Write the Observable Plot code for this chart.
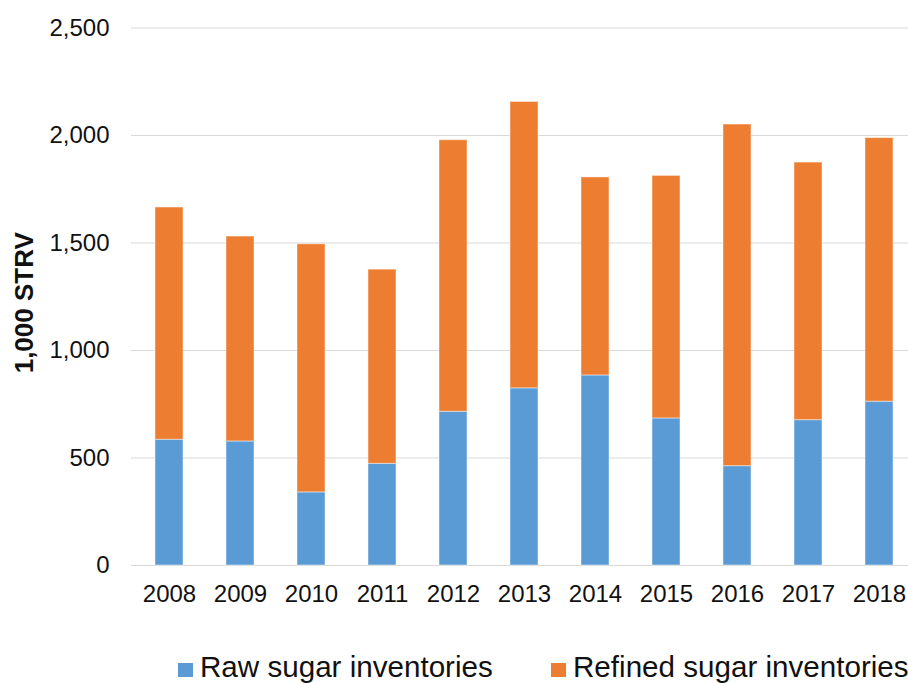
<!DOCTYPE html>
<html>
<head>
<meta charset="utf-8">
<script src="https://cdn.jsdelivr.net/npm/d3@7"></script>
<script src="https://cdn.jsdelivr.net/npm/@observablehq/plot@0.6"></script>
<style>
  html, body { margin: 0; padding: 0; background: #fff; }
  body { width: 908px; height: 683px; overflow: hidden; font-family: "Liberation Sans", Arial, sans-serif; }
  #chart svg { display: block; }
  #legend { position: relative; height: 43px; font-size: 29.6px; line-height: 33px; color: #111; }
  .item { position: absolute; top: 10px; white-space: nowrap; }
  .swatch { display: inline-block; width: 15px; height: 14px; margin-right: 7px; vertical-align: baseline; }
</style>
</head>
<body>
<div id="chart"></div>
<div id="legend"></div>
<script>
const years = ["2008","2009","2010","2011","2012","2013","2014","2015","2016","2017","2018"];
const rawSugar     = [585, 577, 340, 473, 715, 824, 884, 684, 462, 676, 762];
const refinedSugar = [1080, 953, 1154, 903, 1263, 1332, 921, 1128, 1589, 1198, 1226];
const seriesNames  = ["Raw sugar inventories", "Refined sugar inventories"];
const yTicks       = [0, 500, 1000, 1500, 2000, 2500];
const yTitle       = "1,000 STRV";

const rows = [
  ...years.map((y, i) => ({year: y, series: seriesNames[0], value: rawSugar[i]})),
  ...years.map((y, i) => ({year: y, series: seriesNames[1], value: refinedSugar[i]}))
];
const colors = ["#5B9BD5", "#ED7D31"];

const chart = Plot.plot({
  width: 908,
  height: 640,
  marginLeft: 131,
  marginRight: 0,
  marginTop: 27.5,
  marginBottom: 75,
  style: {fontFamily: "'Liberation Sans', Arial, sans-serif", fontSize: "24px", color: "#111", background: "#fff"},
  x: {type: "band", domain: years, range: [131, 916.4], paddingInner: 0.6, paddingOuter: 0.3, label: null},
  y: {domain: [0, 2500], label: null},
  color: {domain: seriesNames, range: colors},
  marks: [
    Plot.ruleY(yTicks, {stroke: "#d9d9d9", strokeWidth: 1}),
    Plot.barY(rows, {x: "year", y: "value", fill: "series", stroke: "#ffffff", strokeOpacity: 0.45, strokeWidth: 1}),
    Plot.axisY({ticks: yTicks, tickSize: 0, tickPadding: 22, tickFormat: d3.format(","), fill: "#111"}),
    Plot.axisX({tickSize: 0, tickPadding: 19, fill: "#111"}),
    Plot.text([yTitle], {frameAnchor: "left", text: d => d, rotate: -90, dx: -107, dy: 6, fontWeight: "bold", fontSize: 26, fill: "#111", textAnchor: "middle", lineAnchor: "middle"})
  ]
});
document.getElementById("chart").appendChild(chart);

const legend = document.getElementById("legend");
const lefts = [178, 551];
seriesNames.forEach((name, i) => {
  const item = document.createElement("div");
  item.className = "item";
  item.style.left = lefts[i] + "px";
  const sw = document.createElement("span");
  sw.className = "swatch";
  sw.style.background = colors[i];
  item.appendChild(sw);
  item.appendChild(document.createTextNode(name));
  legend.appendChild(item);
});
</script>
</body>
</html>
